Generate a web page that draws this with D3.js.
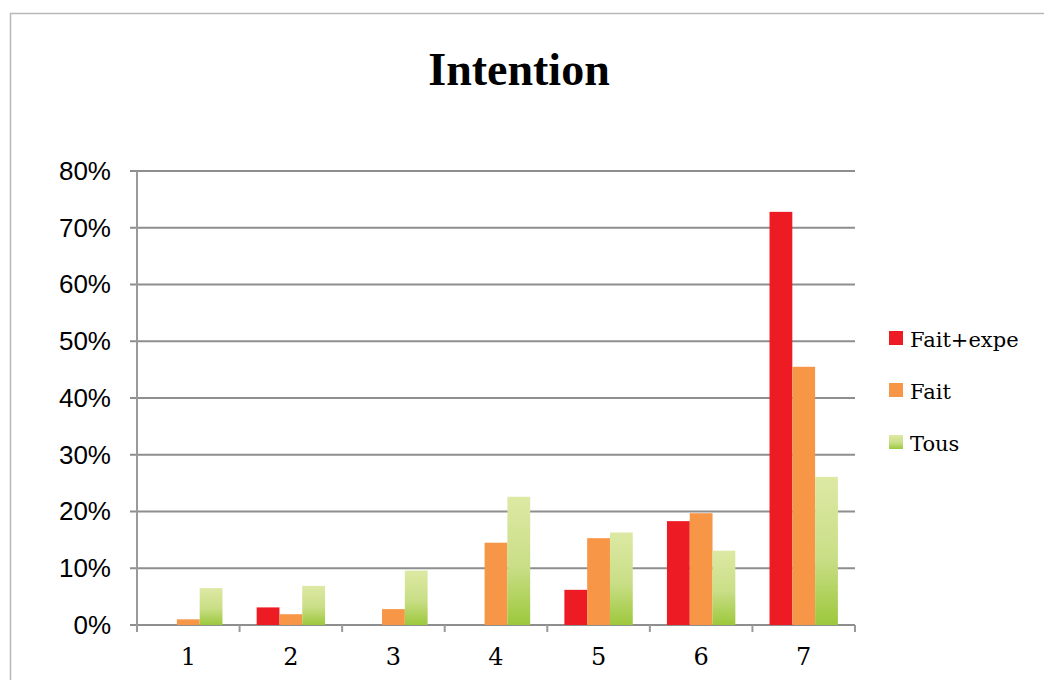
<!DOCTYPE html>
<html>
<head>
<meta charset="utf-8">
<script src="https://cdn.jsdelivr.net/npm/d3@7"></script>
<style>
  body { margin: 0; background: #fff; }
  svg { display: block; }
</style>
</head>
<body>
<svg id="chart" width="1044" height="680"></svg>
<script>
const categories = ['1', '2', '3', '4', '5', '6', '7'];
const seriesNames = ['Fait+expe', 'Fait', 'Tous'];
const faitExpe = [0, 0.031, 0, 0, 0.062, 0.183, 0.728];
const fait = [0.010, 0.019, 0.028, 0.145, 0.153, 0.197, 0.455];
const tous = [0.065, 0.069, 0.096, 0.226, 0.163, 0.131, 0.261];
const yTicks = [0, 0.1, 0.2, 0.3, 0.4, 0.5, 0.6, 0.7, 0.8];

const colors = ['#ed1c24', '#f79646', 'url(#greenGrad)'];

const plot = {left: 137, right: 855, top: 171, bottom: 625};

const svg = d3.select('#chart');

// gradient for the "Tous" bars
const grad = svg.append('defs').append('linearGradient')
  .attr('id', 'greenGrad')
  .attr('x1', 0).attr('y1', 0).attr('x2', 0).attr('y2', 1);
grad.append('stop').attr('offset', '0%').attr('stop-color', '#dde9a4');
grad.append('stop').attr('offset', '55%').attr('stop-color', '#c9de86');
grad.append('stop').attr('offset', '100%').attr('stop-color', '#9cc83c');

// chart frame
svg.append('rect')
  .attr('x', 10.5).attr('y', 13.5)
  .attr('width', 1100).attr('height', 700)
  .attr('fill', 'none')
  .attr('stroke', '#b8b8b8')
  .attr('stroke-width', 1.5);

const xScale = d3.scaleBand().domain(categories).range([plot.left, plot.right]);
const yScale = d3.scaleLinear().domain([0, 0.8]).range([plot.bottom, plot.top]);

const barW = xScale.bandwidth() / 4.5;
const xSub = d3.scaleBand().domain(seriesNames)
  .range([barW * 0.75, barW * 0.75 + barW * 3]);

// grid lines
svg.append('g')
  .selectAll('line')
  .data(yTicks)
  .join('line')
    .attr('x1', plot.left - 7)
    .attr('x2', plot.right)
    .attr('y1', d => yScale(d))
    .attr('y2', d => yScale(d))
    .attr('stroke', '#8e8e8e')
    .attr('stroke-width', 2);

// y axis
const yAxis = svg.append('g')
  .attr('transform', `translate(${plot.left},0)`)
  .call(d3.axisLeft(yScale).tickValues(yTicks).tickFormat(d3.format('.0%')).tickSize(0).tickPadding(26));
yAxis.select('.domain').remove();
yAxis.selectAll('text')
  .attr('font-family', '"Liberation Sans", Arial, sans-serif')
  .attr('font-size', 26)
  .attr('fill', '#000');

svg.append('line')
  .attr('x1', plot.left).attr('x2', plot.left)
  .attr('y1', plot.top).attr('y2', plot.bottom + 7)
  .attr('stroke', '#9a9a9a').attr('stroke-width', 2);

// x axis
const xAxis = svg.append('g')
  .attr('transform', `translate(0,${plot.bottom})`)
  .call(d3.axisBottom(xScale).tickSize(0).tickPadding(23));
xAxis.select('.domain').remove();
xAxis.selectAll('text')
  .attr('font-family', '"DejaVu Serif", serif')
  .attr('font-size', 24)
  .attr('fill', '#000');

svg.append('g')
  .selectAll('line')
  .data(categories.map(c => xScale(c)).concat([plot.right]))
  .join('line')
    .attr('x1', d => d).attr('x2', d => d)
    .attr('y1', plot.bottom).attr('y2', plot.bottom + 7)
    .attr('stroke', '#9a9a9a').attr('stroke-width', 2);

// bars
const series = [faitExpe, fait, tous];
series.forEach((values, si) => {
  svg.append('g')
    .selectAll('rect')
    .data(values.map((v, i) => ({cat: categories[i], v: v})))
    .join('rect')
      .attr('x', d => xScale(d.cat) + xSub(seriesNames[si]))
      .attr('y', d => yScale(d.v))
      .attr('width', xSub.bandwidth())
      .attr('height', d => plot.bottom - yScale(d.v))
      .attr('fill', colors[si]);
});

// title
svg.append('text')
  .attr('x', 519).attr('y', 85)
  .attr('text-anchor', 'middle')
  .attr('font-family', '"Liberation Serif", serif')
  .attr('font-weight', 'bold')
  .attr('font-size', 46)
  .text('Intention');

// legend
const legend = svg.append('g')
  .selectAll('g')
  .data(seriesNames)
  .join('g')
    .attr('transform', (d, i) => `translate(889,${331 + i * 52})`);
legend.append('rect')
  .attr('width', 14).attr('height', 14)
  .attr('fill', (d, i) => colors[i]);
legend.append('text')
  .attr('x', 21).attr('y', 16)
  .attr('font-family', '"DejaVu Serif", serif')
  .attr('font-size', 21)
  .text(d => d);
</script>
</body>
</html>
